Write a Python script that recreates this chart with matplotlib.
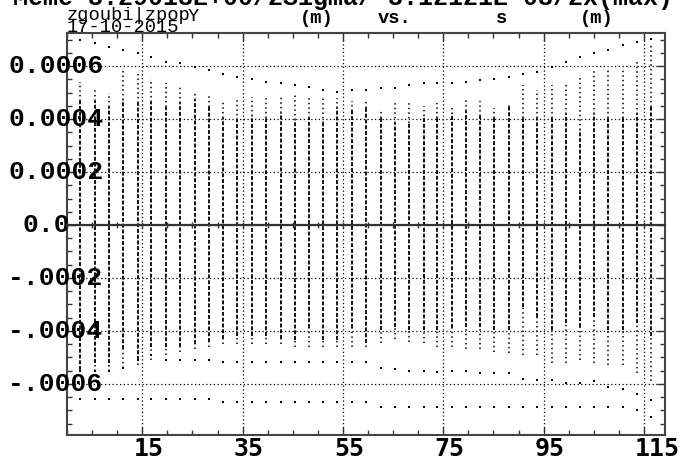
import matplotlib
matplotlib.use("Agg")
import matplotlib.pyplot as plt
import matplotlib.transforms as mtransforms
from matplotlib.ticker import MultipleLocator
import numpy as np

# column positions along s (m)
s_pos = [2.6, 5.6, 8.4, 11.1, 14.1, 16.8, 19.7, 22.6, 25.5, 28.3,
         31.1, 33.9, 36.8, 39.7, 42.6, 45.4, 48.2, 51.1, 53.9, 56.8,
         59.6, 62.5, 65.3, 68.1, 71.1, 73.8, 76.7, 79.5, 82.3, 85.1,
         88.1, 90.9, 93.7, 96.6, 99.5, 102.3, 105.1, 107.9, 110.8, 113.6,
         116.4]

# Y values in units of 1e-4 m
y_top = [6.98, 6.86, 6.73, 6.60, 6.48, 6.35, 6.16, 6.10, 5.98, 5.85,
         5.72, 5.60, 5.50, 5.40, 5.35, 5.28, 5.20, 5.09, 5.03, 5.09,
         5.09, 5.16, 5.16, 5.28, 5.35, 5.35, 5.35, 5.40, 5.47, 5.53,
         5.60, 5.72, 5.79, 5.98, 6.16, 6.35, 6.48, 6.60, 6.79, 6.92,
         7.02]
halo_top = [5.4, 5.1, 5.0, 5.9, 5.7, 5.5, 5.35, 5.3, 5.0, 4.9,
            4.7, 4.75, 4.85, 4.8, 4.9, 5.0, 4.85, 4.85, 4.8, 4.7,
            4.7, 4.3, 4.6, 4.6, 4.5, 4.6, 4.5, 4.8, 4.7, 4.4,
            4.6, 5.3, 5.1, 5.3, 5.3, 5.6, 5.8, 5.9, 5.9, 6.2,
            6.8]
core_top = [4.7, 4.7, 4.47, 4.72, 4.6, 4.65, 4.47, 4.6, 4.72, 4.47,
            4.03, 3.97, 4.1, 4.03, 4.22, 3.97, 4.03, 3.84, 4.4, 4.3,
            4.4, 4.03, 3.84, 3.84, 4.1, 4.03, 4.2, 4.3, 4.1, 4.03,
            4.47, 4.03, 4.03, 4.03, 4.2, 3.6, 4.2, 4.03, 4.03, 4.2,
            4.47]
core_bot = [-5.47, -5.22, -5.2, -4.7, -5.1, -4.6, -4.6, -4.6, -4.5, -4.4,
            -4.3, -4.2, -4.2, -4.2, -4.3, -4.35, -3.9, -4.35, -4.35, -3.9,
            -4.45, -3.96, -3.84, -3.96, -3.96, -3.96, -3.9, -3.84, -3.84, -3.96,
            -3.96, -3.1, -3.46, -3.96, -3.7, -3.84, -3.46, -3.96, -3.96, -3.7,
            -4.2]
halo_bot = [-5.5, -5.5, -5.5, -5.4, -5.3, -5.1, -4.9, -4.8, -4.7, -4.6,
            -4.5, -4.5, -4.5, -4.5, -4.5, -4.6, -4.6, -4.6, -4.6, -4.6,
            -4.6, -4.45, -4.3, -4.4, -4.45, -4.6, -4.6, -4.7, -4.7, -4.8,
            -4.85, -4.9, -4.9, -5.2, -5.2, -5.1, -5.2, -5.3, -5.3, -5.6,
            -5.9]
y_lo = [-5.5, -5.5, -5.5, -5.4, -5.1, -4.9, -5.1, -5.1, -5.1, -5.1,
        -5.17, -5.17, -5.17, -5.17, -5.17, -5.17, -5.17, -5.17, -5.17, -5.17,
        -5.17, -5.4, -5.45, -5.5, -5.5, -5.55, -5.5, -5.5, -5.6, -5.6,
        -5.6, -5.8, -5.85, -5.85, -5.95, -5.95, -5.9, -6.1, -6.2, -6.4,
        -6.6]
y_bot = [-6.58, -6.58, -6.58, -6.58, -6.58, -6.58, -6.58, -6.58, -6.58, -6.58,
         -6.67, -6.67, -6.67, -6.67, -6.67, -6.67, -6.67, -6.67, -6.67, -6.67,
         -6.67, -6.86, -6.86, -6.86, -6.86, -6.86, -6.86, -6.86, -6.86, -6.86,
         -6.86, -6.86, -6.86, -6.86, -6.86, -6.86, -6.86, -6.86, -6.86, -7.0,
         -7.25]

x_ticks = [15, 35, 55, 75, 95, 115]
y_ticks = [0.0006, 0.0004, 0.0002, 0.0, -0.0002, -0.0004, -0.0006]
y_labels = ["0.0006", "0.0004", "0.0002", "0.0", "-.0002", "-.0004", "-.0006"]
y_label_x = [8, 8, 8, 22, 8, 8, 8]   # left edge in pixels

W, H = 681, 459
fig = plt.figure(figsize=(W / 100, H / 100), dpi=100)
ax = fig.add_axes([67 / W, 24 / H, 598 / W, 402 / H])

# zero line with its own little ticks
zax = ax.twiny()
zax.set_xlim(0, 119.2)
for sp in zax.spines.values():
    sp.set_visible(False)
zax.spines['bottom'].set_visible(True)
zax.spines['bottom'].set_position(('data', 0.0))
zax.spines['bottom'].set_color('#333333')
zax.spines['bottom'].set_linewidth(1.6)
zax.xaxis.set_ticks_position('bottom')
zax.xaxis.set_major_locator(MultipleLocator(5))
zax.tick_params(axis='x', direction='inout', length=5, width=1,
                color='#333333', labelbottom=False, labeltop=False)

sc = 1e-4
s = np.array(s_pos)
ax.vlines(s, np.array(core_bot) * sc, np.array(core_top) * sc, colors='k',
          linewidth=1.3, linestyles=(0, (2.2, 1.0)))
ax.vlines(s, np.array(core_top) * sc, np.array(halo_top) * sc, colors='k',
          linewidth=1.1, linestyles=(0, (1.0, 2.0)))
ax.vlines(s, np.array(halo_bot) * sc, np.array(core_bot) * sc, colors='k',
          linewidth=1.1, linestyles=(0, (1.0, 2.0)))
ax.plot(s, np.array(y_top) * sc, ls='none', marker='s', ms=1.7, mew=0, color='k')
ax.plot(s, np.array(y_lo) * sc, ls='none', marker='s', ms=1.7, mew=0, color='k')
ax.plot(s, np.array(y_bot) * sc, ls='none', marker='s', ms=1.7, mew=0, color='k')

ax.set_xlim(0, 119.2)
ax.set_ylim(-0.000793, 0.000725)
ax.set_xticks(x_ticks)
ax.set_yticks(y_ticks)
ax.xaxis.set_minor_locator(MultipleLocator(5))
ax.yaxis.set_minor_locator(MultipleLocator(0.00005))
ax.tick_params(which='both', direction='in', top=True, right=True,
               bottom=True, left=True, labelbottom=False, labelleft=False,
               color='#333333')
ax.tick_params(which='major', length=6, width=1)
ax.tick_params(which='minor', length=3.5, width=1)
ax.grid(True, which='major', color='k', linewidth=0.9, linestyle=(0, (1, 2)))
for sp in ax.spines.values():
    sp.set_color('#444444')
    sp.set_linewidth(1.5)

# tick labels
ytr = mtransforms.blended_transform_factory(fig.transFigure, ax.transData)
for yv, lab, xl in zip(y_ticks, y_labels, y_label_x):
    t = mtransforms.offset_copy(ytr, fig=fig, x=0, y=-7, units='dots')
    ax.text(xl / W, yv, lab, transform=t, ha='left', va='baseline',
            family='Liberation Mono', weight='bold', fontsize=19,
            clip_on=False)
xtr = mtransforms.blended_transform_factory(ax.transData, fig.transFigure)
for xv in x_ticks:
    t = mtransforms.offset_copy(xtr, fig=fig, x=-9, y=0, units='dots')
    ax.text(xv, 3 / H, str(xv), transform=t, ha='left', va='baseline',
            family='DejaVu Sans Mono', weight='bold', fontsize=18,
            clip_on=False)

# header texts
fig.text(13 / W, 1 - 5 / H, "Meme 3.29013E+00/2Sigma/ 3.12121E-03/2x(max)",
         family='Liberation Mono', weight='bold', fontsize=18, va='baseline')
fig.text(67 / W, 1 - 20 / H, "zgoubi|zpop", family='Liberation Mono',
         fontsize=13.5, va='baseline')
fig.text(67 / W, 1 - 32 / H, "17-10-2015", family='Liberation Mono',
         fontsize=13.5, va='baseline')
fig.text(188 / W, 1 - 21 / H, "Y", family='Liberation Mono',
         fontsize=13.5, va='baseline')
fig.text(300 / W, 1 - 23 / H, "(m)", family='Liberation Mono', weight='bold',
         fontsize=13.5, va='baseline')
fig.text(378 / W, 1 - 23 / H, "vs.", family='Liberation Mono', weight='bold',
         fontsize=13.5, va='baseline')
fig.text(496 / W, 1 - 23 / H, "s", family='Liberation Mono', weight='bold',
         fontsize=13.5, va='baseline')
fig.text(580 / W, 1 - 23 / H, "(m)", family='Liberation Mono', weight='bold',
         fontsize=13.5, va='baseline')

fig.savefig("out.png", dpi=100)
